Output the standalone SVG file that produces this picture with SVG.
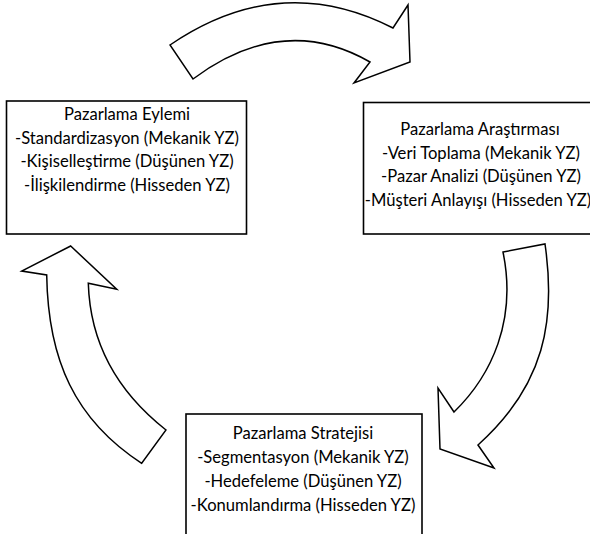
<svg xmlns="http://www.w3.org/2000/svg" width="590" height="534" viewBox="0 0 590 534">
  <style>
    .box { fill: #ffffff; stroke: #000000; stroke-width: 1.6; }
    .arrow { fill: #ffffff; stroke: #000000; stroke-width: 1.5; stroke-linejoin: miter; }
    .label { font-family: Lato, "Open Sans", sans-serif; font-size: 16.6px; fill: #000000; text-anchor: middle; }
  </style>
  <rect width="590" height="534" fill="#ffffff"/>

  <!-- curved block arrows between the stages -->
  <g id="connectors">
    <path class="arrow" d="M170,45 Q280,-30 393,28 L408,5 L410,62 L354,83 L370,62 Q283,12 193,79 Z"/>
    <path class="arrow" d="M503,252 L545,244 C556,320 545,385 478,445 L494,468 L440,449 L438,388 L454,412 C492,375 517,320 503,252 Z"/>
    <path class="arrow" d="M70.7,246 L116.7,289.3 L88.3,283.3 C90,340 115,390 166,430 L141.7,463.3 C75,420 48,360 46.7,275 L21.7,271 Z"/>
  </g>

  <g id="eylem">
    <rect class="box" x="6.5" y="101" width="240" height="133"/>
    <text class="label" x="127" y="120">Pazarlama Eylemi</text>
    <text class="label" x="127" y="143.5">-Standardizasyon (Mekanik YZ)</text>
    <text class="label" x="127" y="167">-Kişiselleştirme (Düşünen YZ)</text>
    <text class="label" x="127" y="190.5">-İlişkilendirme (Hisseden YZ)</text>
  </g>

  <g id="arastirma">
    <rect class="box" x="363.5" y="102.5" width="236" height="131.5"/>
    <text class="label" x="480" y="135">Pazarlama Araştırması</text>
    <text class="label" x="481" y="158.5">-Veri Toplama (Mekanik YZ)</text>
    <text class="label" x="481" y="182">-Pazar Analizi (Düşünen YZ)</text>
    <text class="label" x="478" y="205.5">-Müşteri Anlayışı (Hisseden YZ)</text>
  </g>

  <g id="strateji">
    <rect class="box" x="186" y="414" width="236" height="130"/>
    <text class="label" x="303" y="439">Pazarlama Stratejisi</text>
    <text class="label" x="303" y="463">-Segmentasyon (Mekanik YZ)</text>
    <text class="label" x="303" y="487">-Hedefeleme (Düşünen YZ)</text>
    <text class="label" x="303" y="511">-Konumlandırma (Hisseden YZ)</text>
  </g>
</svg>
